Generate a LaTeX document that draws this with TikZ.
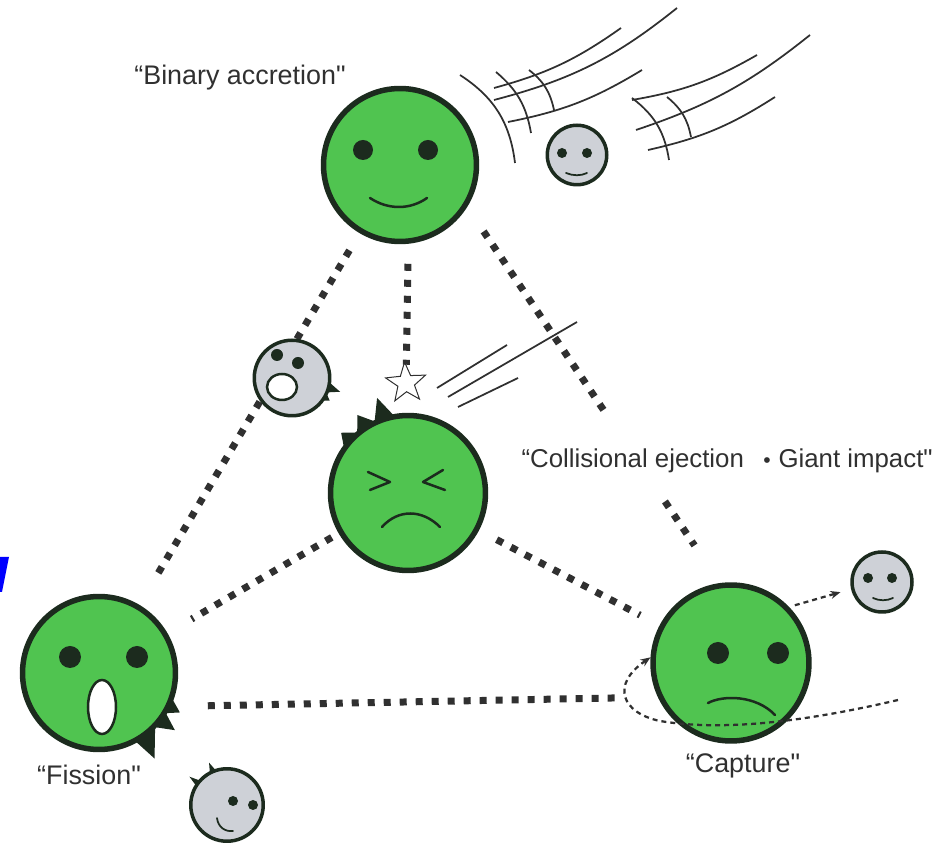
\documentclass[tikz,border=0pt]{standalone}
\usepackage{fontspec}
\setmainfont{Liberation Sans}[Ligatures=TeXOff]
\usetikzlibrary{calc,shapes.geometric,arrows.meta}

\definecolor{facegreen}{RGB}{80,196,80}
\definecolor{facedark}{RGB}{28,43,30}
\definecolor{moongrey}{RGB}{206,209,215}
\definecolor{inkgrey}{RGB}{48,48,48}

\tikzset{
  bigface/.style={circle, draw=facedark, line width=0.11cm, fill=facegreen, inner sep=0pt, minimum size=3.06cm},
  moon/.style={circle, draw=facedark, line width=0.07cm, fill=moongrey, inner sep=0pt},
  eye/.style={fill=facedark},
  mouth/.style={draw=facedark, line width=0.05cm, line cap=round, line join=round},
  spike/.style={fill=facedark},
  linkdots/.style={draw=inkgrey, line width=0.14cm, dash pattern=on 0.14cm off 0.18cm},
  trail/.style={draw=inkgrey, line width=0.045cm, dash pattern=on 0.1cm off 0.08cm},
  streak/.style={draw=inkgrey, line width=0.035cm},
  quotetext/.style={font=\fontsize{15.3}{19}\selectfont, text=inkgrey, inner sep=0pt}
}

\begin{document}
\begin{tikzpicture}[x=0.02cm, y=0.02cm]
\useasboundingbox (0,0) rectangle (947,845);

% the four big faces
\node[bigface] (bin) at (400,680) {};
\node[bigface, minimum size=3.1cm] (col) at (408,352) {};
\node[bigface] (fis) at (99,172) {};
\node[bigface, minimum size=3.12cm] (cap) at (731,182) {};

\begin{scope}[shift={(bin)}]
  \fill[eye] (-37,15) circle (10) (28,15) circle (10);
  \draw[mouth] (-30,-33) .. controls (-12,-45) and (10,-45) .. (27,-33);
\end{scope}

\begin{scope}[shift={(col)}]
  \draw[mouth] (-40,21) -- (-18,11) -- (-38,3);
  \draw[mouth] (35,23) -- (15,11) -- (37,3);
  \draw[mouth] (-26,-34) .. controls (-10,-16) and (14,-16) .. (32,-34);
  \fill[spike] (100:78) -- (108:100) -- (115:79) -- (123:93) -- (130:79) -- (138:90) -- (145:78)
    arc[start angle=145, end angle=100, radius=76] -- cycle;
\end{scope}

\begin{scope}[shift={(fis)}]
  \fill[eye] (-29,16) circle (11) (38,16) circle (11);
  \filldraw[fill=white, draw=facedark, line width=0.05cm] (3,-34) ellipse (14 and 27);
  \fill[spike] (-19:77) -- (-26:90) -- (-31:78) -- (-37:95) -- (-44:78) -- (-57:102) -- (-62:77)
    arc[start angle=-62, end angle=-19, radius=75] -- cycle;
\end{scope}

\begin{scope}[shift={(cap)}]
  \fill[eye] (-13,10) circle (11) (47,10) circle (11);
  \draw[mouth] (-23,-40) .. controls (-8,-32) and (25,-32) .. (44,-52);
\end{scope}

% dotted links between the scenarios
\draw[linkdots, shorten <=0.4cm, shorten >=0.64cm] (bin) -- (fis);
\draw[linkdots, shorten <=0.16cm, shorten >=0.56cm] (col) -- (fis);
\draw[linkdots, shorten <=0.4cm, shorten >=0.44cm] (col) -- (cap);
\draw[linkdots, shorten <=0.74cm, shorten >=0.82cm] (fis.-25) -- (cap.205);
\draw[linkdots] ($(bin.-32)!0.065!(cap.98)$) -- ($(bin.-32)!0.555!(cap.98)$);
\draw[linkdots] ($(bin.-32)!0.783!(cap.98)$) -- ($(bin.-32)!0.9!(cap.98)$);

\node[star, star points=5, star point ratio=2.4, draw=inkgrey, line width=0.02cm, fill=white,
  inner sep=0pt, minimum size=0.84cm, rotate=4] (star) at (406,462) {};
\draw[linkdots, shorten <=0.4cm] (bin.-84) -- (star);

% impact streaks
\draw[streak] (437,457) -- (507,500);
\draw[streak] (448,448) -- (577,523);
\draw[streak] (458,438) -- (518,467);

% orbit streaks round the accreting pair
\draw[streak] (494,757) to[bend right=10] (621,817);
\draw[streak] (494,745) to[bend right=12] (677,837);
\draw[streak] (508,723) to[bend right=10] (642,775);
\draw[streak] (460,770) to[bend left=25] (515,682);
\draw[streak] (496,773) to[bend left=20] (531,712);
\draw[streak] (529,775) to[bend left=20] (554,735);
\draw[streak] (632,745) to[bend right=10] (757,790);
\draw[streak] (636,715) to[bend right=10] (810,810);
\draw[streak] (648,695) to[bend right=10] (775,748);
\draw[streak] (632,747) to[bend left=22] (669,685);
\draw[streak] (667,748) to[bend left=20] (691,708);

% the small moons
\node[moon, minimum size=1.19cm] (topmoon) at (577,690) {};
\begin{scope}[shift={(topmoon)}]
  \fill[eye] (-15,2) circle (5) (10,2) circle (5);
  \draw[mouth, line width=0.035cm] (-11,-18) .. controls (-4,-21) and (4,-21) .. (10,-18);
\end{scope}

\node[moon, minimum size=1.51cm] (shock) at (292,467) {};
\begin{scope}[shift={(shock)}]
  \fill[eye] (-15,23) circle (6) (6,15) circle (6);
  \filldraw[fill=white, draw=facedark, line width=0.05cm] (-10,-9) ellipse (15 and 13);
  \fill[spike] (-6:37) -- (-16:50) -- (-23:37) -- (-31:44) -- (-38:37)
    arc[start angle=-38, end angle=-6, radius=36] -- cycle;
\end{scope}

\node[moon, minimum size=1.45cm] (child) at (227,40) {};
\begin{scope}[shift={(child)}]
  \fill[eye] (6,4) circle (5) (26,0) circle (5);
  \draw[mouth, line width=0.035cm] (-10,-13) .. controls (-9,-22) and (-2,-27) .. (6,-26);
  \fill[spike] (149:35) -- (143:47) -- (137:35) -- (119:35) -- (113:46) -- (107:35)
    arc[start angle=107, end angle=149, radius=35] -- cycle;
\end{scope}

\node[moon, minimum size=1.2cm] (capmoon) at (882,263) {};
\begin{scope}[shift={(capmoon)}]
  \fill[eye] (-14,4) circle (5) (10,4) circle (5);
  \draw[mouth, line width=0.035cm] (-9,-16) .. controls (-3,-19) and (5,-19) .. (11,-16);
\end{scope}

% capture trajectory
\coordinate (far) at (898,145);
\draw[trail, -{Stealth[length=0.2cm, width=0.16cm]}] (far) .. controls (800,122) and (720,114) .. (660,124)
  .. controls (622,132) and (610,160) .. (cap.176);
\draw[trail, -{Stealth[length=0.2cm, width=0.16cm]}, shorten <=0.12cm, shorten >=0.22cm] (cap.44) -- (capmoon.193);

% labels
\node[quotetext, anchor=base] (binlbl) at (240,760) {“Binary accretion"};
\node[quotetext, anchor=base east, font=\fontsize{14.7}{18}\selectfont] (impactlbl) at (933,377)
  {“Collisional ejection\hspace{0.75em}{\fontsize{12}{12}\selectfont •}\hspace{0.3em}Giant impact"};
\node[quotetext, anchor=base] (fislbl) at (89,60) {“Fission"};
\node[quotetext, anchor=base] (caplbl) at (743,72) {“Capture"};

\fill[blue] (0,288) -- (9,288) -- (2,253) -- (0,253) -- cycle;
\end{tikzpicture}
\end{document}
